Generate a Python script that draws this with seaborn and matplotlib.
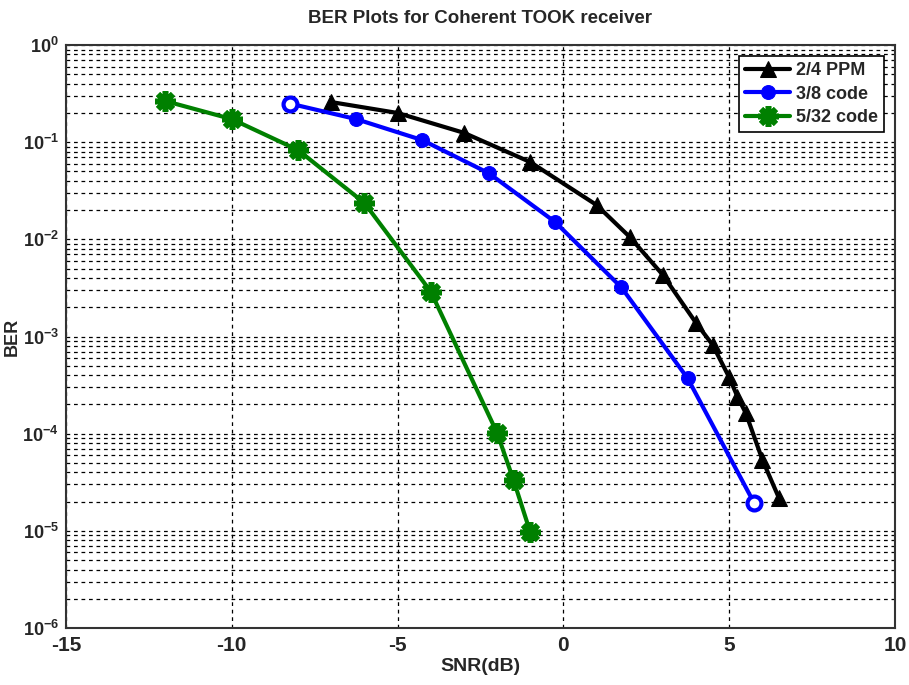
import numpy as np
import pandas as pd
import matplotlib
matplotlib.use("Agg")
import matplotlib.pyplot as plt
import matplotlib.ticker as mticker
import seaborn as sns

# data
snr_ppm = [-7, -5, -3, -1, 1, 2, 3, 4, 4.5, 5, 5.25, 5.5, 6, 6.5]
ber_ppm = [0.259, 0.2, 0.125, 0.0625, 0.0226, 0.0106, 0.0043, 0.00138,
           0.00082, 0.00038, 0.00024, 0.000163, 0.000054, 0.0000218]

snr_38 = [-8.25, -6.25, -4.25, -2.25, -0.25, 1.75, 3.75, 5.75]
ber_38 = [0.25, 0.173, 0.105, 0.048, 0.0151, 0.0032, 0.00037, 0.0000194]

snr_532 = [-12, -10, -8, -6, -4, -2, -1.5, -1]
ber_532 = [0.265, 0.173, 0.083, 0.0237, 0.0029, 0.000102, 0.000033, 0.0000097]

sns.set_style("white")
fam = 'Liberation Sans'
plt.rcParams['font.family'] = [fam, 'DejaVu Sans']
plt.rcParams['mathtext.fontset'] = 'custom'
plt.rcParams['mathtext.rm'] = fam
plt.rcParams['mathtext.bf'] = fam + ':bold'
plt.rcParams['mathtext.default'] = 'bf'
plt.rcParams['axes.unicode_minus'] = False
plt.rcParams['font.weight'] = 'bold'

fig = plt.figure(figsize=(9.09, 6.85), dpi=100)
ax = fig.add_axes([0.0726, 0.0832, 0.912, 0.851])

sns.lineplot(x=snr_ppm, y=ber_ppm, ax=ax, color='black', marker='^', markersize=11,
             linewidth=3, sort=False, label='2/4 PPM', markeredgecolor='black')
sns.lineplot(x=snr_38, y=ber_38, ax=ax, color='blue', marker='o', markersize=10,
             linewidth=3, sort=False, label='3/8 code', markeredgecolor='blue')
# end circles drawn open, as in the reference
ends = pd.DataFrame({'x': [snr_38[0], snr_38[-1]], 'y': [ber_38[0], ber_38[-1]]})
ax.plot(ends.x, ends.y, linestyle='none', marker='o', markersize=10, mfc='white',
        mec='blue', mew=3)
sns.lineplot(x=snr_532, y=ber_532, ax=ax, color='green', marker=(8, 2, 0),
             markersize=15, linewidth=3, sort=False, label='5/32 code',
             markeredgecolor='green', markeredgewidth=4)

ax.set_yscale('log')
ax.set_xlim(-15, 10)
ax.set_ylim(1e-6, 1)
ax.set_xticks([-15, -10, -5, 0, 5, 10])
ax.yaxis.set_major_locator(mticker.LogLocator(base=10, numticks=10))
ax.yaxis.set_minor_locator(mticker.LogLocator(base=10, subs=np.arange(2, 10), numticks=100))
ax.yaxis.set_major_formatter(mticker.LogFormatterMathtext())
ax.yaxis.set_minor_formatter(mticker.NullFormatter())

ax.grid(True, which='major', axis='both', linestyle=(0, (3, 3)), color='black', linewidth=0.9)
ax.grid(True, which='minor', axis='y', linestyle=(0, (3, 3)), color='black', linewidth=0.9)

ax.tick_params(axis='both', which='both', direction='in')
ax.tick_params(axis='x', labelsize=15, pad=6)
ax.tick_params(axis='y', labelsize=13, pad=5)
ax.tick_params(axis='both', which='major', length=6)
ax.tick_params(axis='y', which='minor', length=3)
for lab in ax.get_xticklabels() + ax.get_yticklabels():
    lab.set_fontweight('bold')
for sp in ax.spines.values():
    sp.set_linewidth(1.5)
    sp.set_color('#333333')

ax.set_title('BER Plots for Coherent TOOK receiver', fontsize=13.5, fontweight='bold', pad=16)
ax.set_xlabel('SNR(dB)', fontsize=14, fontweight='bold', labelpad=2)
ax.set_ylabel('BER', fontsize=13, fontweight='bold')
ax.yaxis.set_label_coords(-0.055, 0.5)

leg = ax.legend(loc='upper right', fontsize=13, frameon=True, fancybox=False,
                edgecolor='black', framealpha=1, borderaxespad=0.6, handlelength=2.5,
                handletextpad=0.3, labelspacing=0.35, borderpad=0.35)
leg.get_frame().set_linewidth(1.2)
for t in leg.get_texts():
    t.set_fontweight('bold')

fig.savefig('out.png', dpi=100)
